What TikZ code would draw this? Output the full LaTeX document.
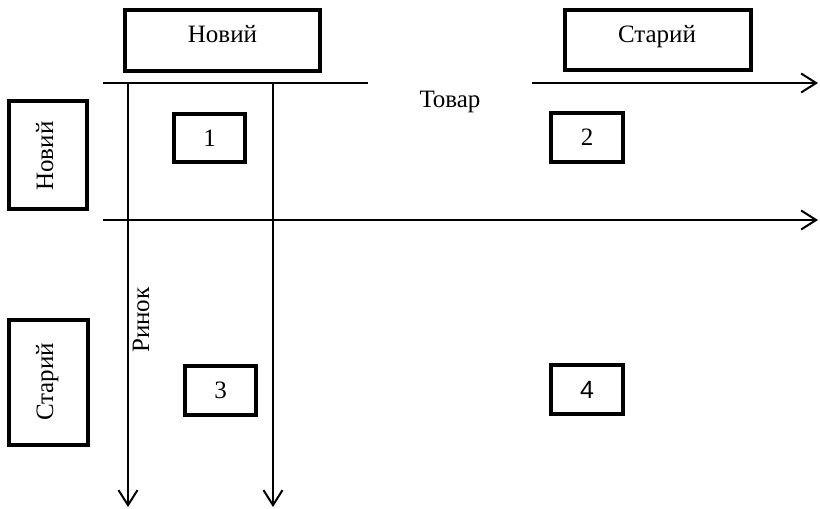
\documentclass[tikz,border=0pt]{standalone}
\usepackage{fontspec}
\setmainfont{Liberation Serif}
\newfontfamily\sansfam{Liberation Sans}
\usetikzlibrary{arrows.meta}
\begin{document}
\begin{tikzpicture}[x=1pt,y=-1pt,
  box/.style={draw,line width=4.5pt,inner sep=0pt,font=\fontsize{25}{29}\selectfont},
  txt/.style={inner sep=0pt,font=\fontsize{25}{29}\selectfont},
  ln/.style={line width=2pt},
  arr/.style={line width=2pt,-{Straight Barb[length=15pt,width=19pt]}}]
\useasboundingbox (0,0) rectangle (820,509);
% header boxes
\node[box,minimum width=195pt,minimum height=61pt] (bnew) at (222.5,40.5) {};
\node[txt,anchor=base] (tnew) at (222.5,42) {Новий};
\node[box,minimum width=186pt,minimum height=60pt] (bold) at (658,40) {};
\node[txt,anchor=base] (told) at (657,42) {Старий};
% side boxes
\node[box,minimum width=78pt,minimum height=108pt] (lnew) at (48,155) {};
\node[txt,anchor=base,rotate=90] (tlnew) at (53,156) {Новий};
\node[box,minimum width=79pt,minimum height=125pt] (lold) at (48.5,382.5) {};
\node[txt,anchor=base,rotate=90] (tlold) at (53,382) {Старий};
% numbered boxes
\node[box,minimum width=71pt,minimum height=48pt] (b1) at (209.5,138) {1};
\node[box,minimum width=72pt,minimum height=49pt] (b2) at (587,137.5) {2};
\node[box,minimum width=71pt,minimum height=49pt] (b3) at (220.5,390.5) {3};
\node[box,minimum width=72pt,minimum height=49pt,font=\sansfam\fontsize{25}{29}\selectfont] (b4) at (587,389.5) {4};
% labels
\node[txt,anchor=base] (tovar) at (450,107) {Товар};
\node[txt,anchor=base,rotate=90] (rynok) at (149,320) {Ринок};
% axes coordinates
\coordinate (h1a) at (103,83);
\coordinate (h1b) at (368,83);
\coordinate (h1c) at (532,83);
\coordinate (h1d) at (818,83);
\coordinate (h2a) at (103,220);
\coordinate (h2b) at (818,220);
\coordinate (v1a) at (128,83);
\coordinate (v1b) at (128,507);
\coordinate (v2a) at (273,83);
\coordinate (v2b) at (273,507);
\draw[ln] (h1a) -- (h1b);
\draw[arr] (h1c) -- (h1d);
\draw[arr] (h2a) -- (h2b);
\draw[arr] (v1a) -- (v1b);
\draw[arr] (v2a) -- (v2b);
\end{tikzpicture}
\end{document}
